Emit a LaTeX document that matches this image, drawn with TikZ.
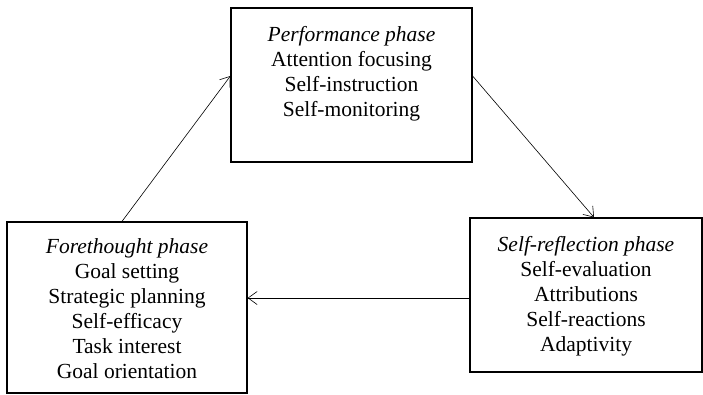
\documentclass[tikz,border=0pt]{standalone}
\usepackage{fontspec}
\setmainfont{Liberation Serif}
\usetikzlibrary{positioning, arrows.meta}

\tikzset{
    phasebox/.style={draw, line width=1.2pt, inner sep=0pt},
    phasetext/.style={align=center, inner sep=0pt, font=\fontsize{21.5}{25}\selectfont},
    cyclearrow/.style={line width=0.6pt, -{Straight Barb[length=9pt, width=13pt]}}
}

\begin{document}
\begin{tikzpicture}[x=1pt, y=-1pt]
    \useasboundingbox (0, 0) rectangle (703, 394);

    % Performance phase
    \node[phasebox, minimum width=241pt, minimum height=154pt] (perf) at (351.5, 85) {};
    \node[phasetext, below=19pt of perf.north] (perftext)
        {\textit{Performance phase}\\Attention focusing\\Self-instruction\\Self-monitoring};

    % Forethought phase
    \node[phasebox, minimum width=240pt, minimum height=171pt] (fore) at (127, 307.5) {};
    \node[phasetext, below=17pt of fore.north] (foretext)
        {\textit{Forethought phase}\\Goal setting\\Strategic planning\\Self-efficacy\\Task interest\\Goal orientation};

    % Self-reflection phase
    \node[phasebox, minimum width=232pt, minimum height=154pt] (refl) at (586, 295) {};
    \node[phasetext, below=19pt of refl.north] (refltext)
        {\textit{Self-reflection phase}\\Self-evaluation\\Attributions\\Self-reactions\\Adaptivity};

    % Cycle
    \draw[cyclearrow] ([xshift=-5pt]fore.north) -- ([yshift=9pt]perf.west);
    \draw[cyclearrow] ([yshift=9pt]perf.east) -- ([xshift=8pt]refl.north);
    \draw[cyclearrow] ([yshift=-3pt]refl.west) coordinate (r) -- (r -| fore.east);
\end{tikzpicture}
\end{document}
